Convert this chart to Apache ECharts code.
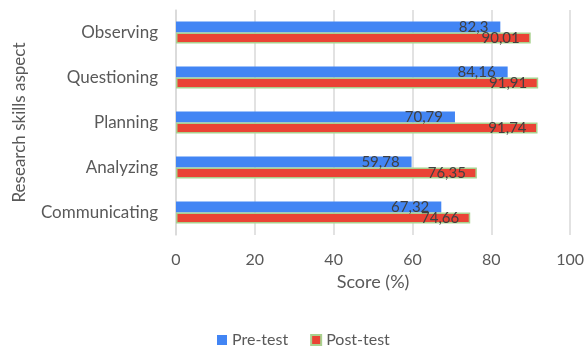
<!DOCTYPE html>
<html>
<head>
<meta charset="utf-8">
<script src="https://cdn.jsdelivr.net/npm/echarts@6/dist/echarts.min.js"></script>
<style>
  html, body { margin: 0; padding: 0; background: #fff; }
  #chart { width: 587px; height: 349px; }
</style>
</head>
<body>
<div id="chart"></div>
<script>
// research skills aspects, top to bottom
var categories = ['Observing', 'Questioning', 'Planning', 'Analyzing', 'Communicating'];
var preTest = [82.3, 84.16, 70.79, 59.78, 67.32];
var postTest = [90.01, 91.91, 91.74, 76.35, 74.66];
var xTicks = [0, 20, 40, 60, 80, 100];

var txtColor = '#595959';
var fontName = 'Lato, "Open Sans", sans-serif';

function commaLabel(p) {
    return String(p.value).replace('.', ',');
}

var myChart = echarts.init(document.getElementById('chart'));

myChart.setOption({
    animation: false,
    textStyle: { fontFamily: fontName },
    grid: { left: 176, right: 13, top: 10, bottom: 114 },
    legend: {
        bottom: -4,
        left: 212,
        itemWidth: 10,
        itemHeight: 10,
        itemGap: 22,
        icon: 'rect',
        textStyle: { color: txtColor, fontSize: 16, fontFamily: fontName },
        data: ['Pre-test', 'Post-test']
    },
    xAxis: {
        type: 'value',
        min: xTicks[0],
        max: xTicks[xTicks.length - 1],
        interval: 20,
        name: 'Score (%)',
        nameLocation: 'middle',
        nameGap: 38,
        nameTextStyle: { color: txtColor, fontSize: 18, fontFamily: fontName },
        axisLine: { show: false },
        axisTick: { show: false },
        axisLabel: { color: txtColor, fontSize: 16, margin: 17, fontFamily: fontName },
        splitLine: { lineStyle: { color: '#d9d9d9', width: 1.5 } }
    },
    yAxis: {
        type: 'category',
        inverse: true,
        data: categories,
        name: 'Research skills aspect',
        nameLocation: 'middle',
        nameGap: 148,
        nameTextStyle: { color: txtColor, fontSize: 17, fontFamily: fontName },
        axisLine: { show: true, lineStyle: { color: '#d9d9d9', width: 1.5 } },
        axisTick: { show: false },
        axisLabel: { color: txtColor, fontSize: 17, margin: 18, fontFamily: fontName }
    },
    series: [
        {
            name: 'Pre-test',
            type: 'bar',
            data: preTest,
            barWidth: 11,
            barGap: '0%',
            itemStyle: { color: '#4285f4' },
            label: {
                show: true,
                position: 'insideRight',
                distance: 12,
                color: '#404040',
                fontSize: 15,
                fontFamily: fontName,
                formatter: commaLabel
            }
        },
        {
            name: 'Post-test',
            type: 'bar',
            data: postTest,
            barWidth: 11,
            itemStyle: { color: '#ea4335', borderColor: '#a9d18e', borderWidth: 1.5 },
            label: {
                show: true,
                position: 'insideRight',
                distance: 11,
                color: '#404040',
                fontSize: 15,
                fontFamily: fontName,
                formatter: commaLabel
            }
        }
    ]
});
</script>
</body>
</html>
